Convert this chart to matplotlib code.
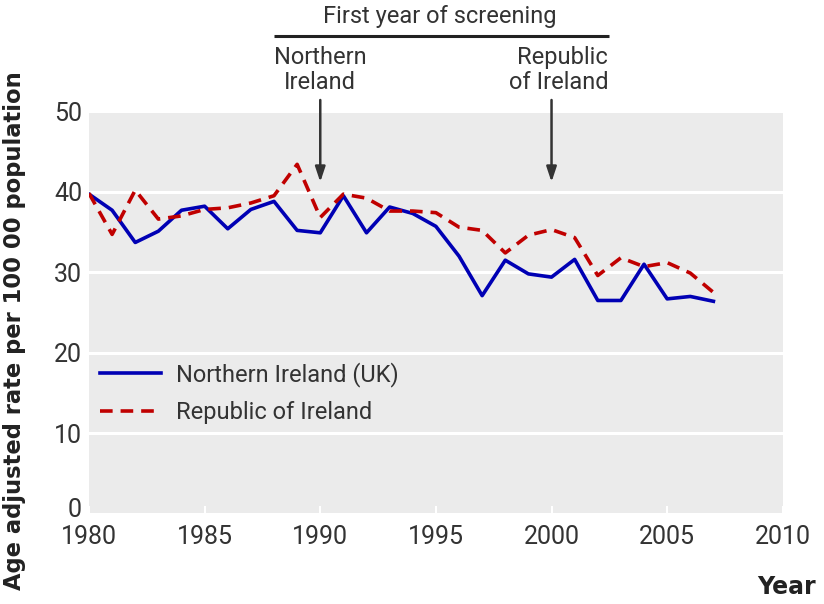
import matplotlib
matplotlib.use("Agg")
import matplotlib.pyplot as plt
from matplotlib import transforms

plt.rcParams['font.family'] = ['Roboto', 'DejaVu Sans']
plt.rcParams['font.weight'] = 'normal'

years = list(range(1980, 2008))
ni = [39.7, 37.7, 33.7, 35.1, 37.7, 38.2, 35.4, 37.8, 38.8, 35.2, 34.9, 39.5,
      34.9, 38.1, 37.3, 35.7, 32.0, 27.1, 31.5, 29.8, 29.4, 31.6, 26.5, 26.5,
      31.0, 26.7, 27.0, 26.4]
roi = [39.8, 34.7, 40.2, 36.6, 37.0, 37.8, 38.0, 38.6, 39.5, 43.4, 36.8, 39.7,
       39.2, 37.6, 37.6, 37.4, 35.6, 35.2, 32.4, 34.6, 35.3, 34.3, 29.6, 31.8,
       30.7, 31.2, 29.9, 27.5]
x_ticks = [1980, 1985, 1990, 1995, 2000, 2005, 2010]
y_ticks = [0, 10, 20, 30, 40, 50]
screen_years = [1990, 2000]
screen_labels = ['Northern\nIreland', 'Republic\nof Ireland']

TXT = '#333333'
fig = plt.figure(figsize=(8.24, 6.04), dpi=100)
ax = fig.add_axes([0.108, 0.149, 0.842, 0.667])
ax.set_facecolor('#ebebeb')
for s in ax.spines.values():
    s.set_visible(False)
ax.set_xlim(1980, 2010)
ax.set_ylim(0, 50)
ax.set_xticks(x_ticks)
ax.set_yticks(y_ticks)
ax.grid(axis='y', color='white', linewidth=2.2)
ax.set_axisbelow(True)
ax.tick_params(axis='x', direction='in', color='white', length=6, width=1.5,
               labelsize=18, pad=8, labelcolor=TXT)
ax.tick_params(axis='y', length=0, labelsize=18, pad=5, labelcolor=TXT)
# the "0" label sits slightly above its gridline in the reference
fig.canvas.draw()
ylabs = ax.get_yticklabels()
ylabs[0].set_transform(ylabs[0].get_transform() +
                       transforms.ScaledTranslation(0, 7 / 100, fig.dpi_scale_trans))

ax.plot(years, ni, color='#0000b4', linewidth=2.6, label='Northern Ireland (UK)')
ax.plot(years, roi, color='#c00000', linewidth=2.6, linestyle=(0, (3.5, 2.2)),
        label='Republic of Ireland')

ax.legend(loc='upper left', bbox_to_anchor=(0.016, 0.378), frameon=False,
          fontsize=17, handlelength=2.6, handletextpad=0.6, labelspacing=0.62,
          borderpad=0, borderaxespad=0, labelcolor=TXT)

# annotations (x in data, y in figure fraction)
bt = transforms.blended_transform_factory(ax.transData, fig.transFigure)
for yr in screen_years:
    ax.annotate('', xy=(yr, 1 - 182 / 604), xytext=(yr, 1 - 100 / 604),
                xycoords=bt, textcoords=bt,
                arrowprops=dict(arrowstyle='-|>,head_length=0.9,head_width=0.3',
                                color='#333333', lw=1.8, shrinkA=0, shrinkB=0),
                annotation_clip=False)
ax.text(screen_years[0], 1 - 70 / 604, screen_labels[0], transform=bt,
        ha='center', va='center', fontsize=17, color=TXT, linespacing=1.1)
ax.text(2002.45, 1 - 70 / 604, screen_labels[1], transform=bt,
        ha='right', va='center', fontsize=17, color=TXT, linespacing=1.1,
        multialignment='right')
ax.plot([1988.0, 2002.5], [1 - 36 / 604] * 2, transform=bt, color='#222222',
        lw=2.2, clip_on=False, solid_capstyle='butt')
ax.text(1995.15, 1 - 17 / 604, 'First year of screening', transform=bt,
        ha='center', va='center', fontsize=17, color=TXT)

fig.text(0.018, 0.453, 'Age adjusted rate per 100 00 population', rotation=90,
         ha='center', va='center', fontsize=16.3, fontweight='bold', color='#222222',
         family='DejaVu Sans')
fig.text(0.99, 0.008, 'Year', ha='right', va='bottom', fontsize=17,
         fontweight='bold', color='#222222', family='DejaVu Sans')

fig.savefig('out.png', dpi=100)
